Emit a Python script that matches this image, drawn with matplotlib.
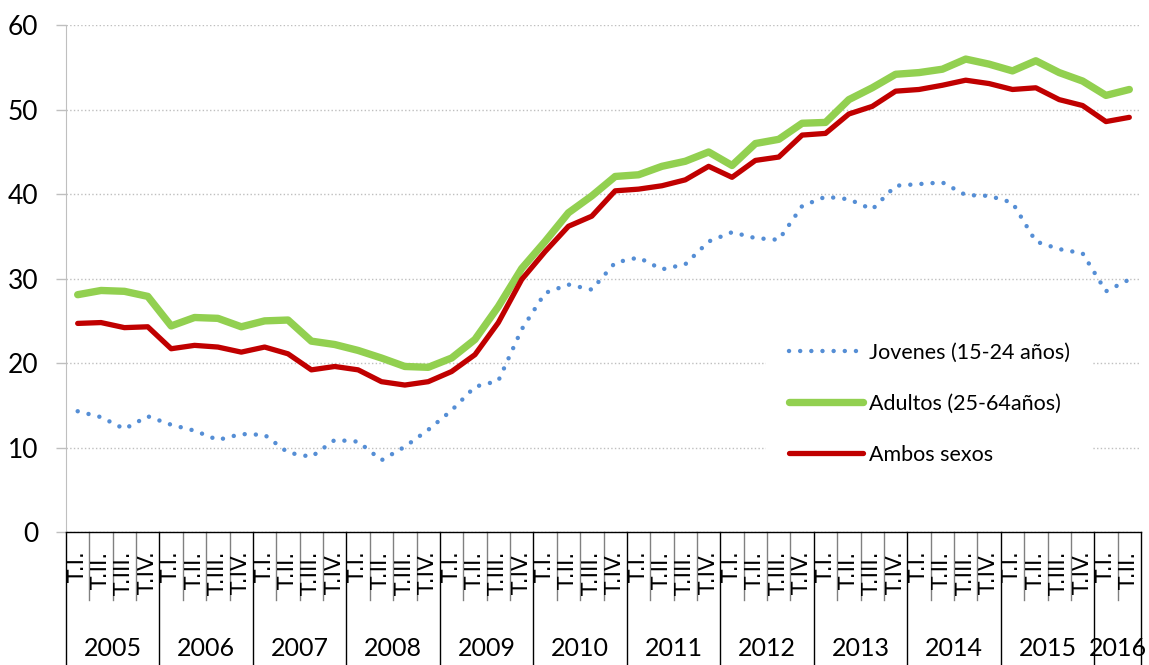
import matplotlib.pyplot as plt

plt.rcParams['font.family'] = ['Lato', 'DejaVu Sans']

years = ['2005', '2006', '2007', '2008', '2009', '2010',
         '2011', '2012', '2013', '2014', '2015', '2016']
quarters = ['T.I.', 'T.II.', 'T.III.', 'T.IV.']
quarter_labels = quarters * 11 + quarters[:2]

# tasa (%) por trimestre, 2005 T.I. a 2016 T.II.
jovenes = [14.3, 13.6, 12.2, 13.7, 12.7, 12.0, 10.9, 11.6, 11.5, 9.4,
           8.9, 10.9, 10.7, 8.5, 10.1, 12.1, 14.4, 17.2, 17.9, 24.0,
           28.3, 29.3, 28.7, 31.9, 32.5, 31.1, 31.7, 34.4, 35.5, 34.8,
           34.6, 38.6, 39.7, 39.4, 38.2, 41.0, 41.2, 41.4, 39.9, 39.8,
           39.0, 34.4, 33.5, 33.0, 28.5, 29.9]
adultos = [28.1, 28.6, 28.5, 27.9, 24.4, 25.4, 25.3, 24.3, 25.0, 25.1,
           22.6, 22.2, 21.5, 20.6, 19.6, 19.5, 20.6, 22.8, 26.7, 31.2,
           34.4, 37.8, 39.8, 42.1, 42.3, 43.3, 43.9, 45.0, 43.4, 46.0,
           46.5, 48.4, 48.5, 51.2, 52.6, 54.2, 54.4, 54.8, 56.0, 55.4,
           54.6, 55.8, 54.4, 53.4, 51.7, 52.4]
ambos = [24.7, 24.8, 24.2, 24.3, 21.7, 22.1, 21.9, 21.3, 21.9, 21.1,
         19.2, 19.6, 19.2, 17.8, 17.4, 17.8, 19.0, 21.0, 24.8, 29.9,
         33.2, 36.2, 37.4, 40.4, 40.6, 41.0, 41.7, 43.3, 42.0, 44.0,
         44.4, 47.0, 47.2, 49.5, 50.4, 52.2, 52.4, 52.9, 53.5, 53.1,
         52.4, 52.6, 51.2, 50.5, 48.6, 49.1]

W, H = 1149, 665
fig = plt.figure(figsize=(W / 100, H / 100), dpi=100)
ax = fig.add_axes([66 / W, 1 - 532 / H, (1141 - 66) / W, (532 - 25.3) / H])

x = list(range(len(quarter_labels)))
ax.plot(x, jovenes, color='#558ED5', lw=3.2, linestyle=(0, (0.01, 2.5)),
        dash_capstyle='round', label='Jovenes (15-24 años)', zorder=3)
ax.plot(x, adultos, color='#92D050', lw=5.3, solid_capstyle='round',
        solid_joinstyle='round', label='Adultos (25-64años)', zorder=4)
ax.plot(x, ambos, color='#C00000', lw=3.8, solid_capstyle='round',
        solid_joinstyle='round', label='Ambos sexos', zorder=5)

ax.set_xlim(-0.5, len(x) - 0.5)
ax.set_ylim(0, 60)
ax.set_yticks(range(0, 61, 10))
ax.tick_params(axis='y', labelsize=19, length=7, width=1, color='#BFBFBF', pad=13)
ax.set_xticks([])
ax.grid(axis='y', color='#BFBFBF', linestyle=':', lw=1)
for s in ['top', 'right']:
    ax.spines[s].set_visible(False)
ax.spines['left'].set_color('#BFBFBF')
ax.spines['bottom'].set_color('black')
ax.spines['bottom'].set_linewidth(1)

# etiquetas de trimestre y año
xt = ax.get_xaxis_transform()
for i, q in enumerate(quarter_labels):
    ax.text(i, -0.038, q, transform=xt, rotation=90, ha='center', va='top',
            fontsize=15.5, family=['DejaVu Sans'])
    if i > 0 and i % 4 != 0:
        ax.plot([i - 0.5, i - 0.5], [0, -0.134], transform=xt, color='#808080',
                lw=1, clip_on=False)
for k, yr in enumerate(years):
    start = 4 * k
    end = min(start + 4, len(x))
    ax.text((start + end - 1) / 2, -0.229, yr, transform=xt, ha='center',
            va='center', fontsize=18)
    ax.plot([start - 0.5, start - 0.5], [0, -0.27], transform=xt, color='black',
            lw=1, clip_on=False)
ax.plot([len(x) - 0.5, len(x) - 0.5], [0, -0.27], transform=xt, color='black',
        lw=1, clip_on=False)

leg = ax.legend(loc='upper left', bbox_to_anchor=(755 / W, 1 - 308 / H),
                bbox_transform=fig.transFigure, fontsize=15.5, frameon=True,
                handlelength=3.4, handletextpad=0.28, labelspacing=1.45,
                borderpad=1.1)
leg.get_frame().set_facecolor('white')
leg.get_frame().set_edgecolor('none')
leg.get_frame().set_alpha(1)

plt.savefig('out.png', dpi=100)
